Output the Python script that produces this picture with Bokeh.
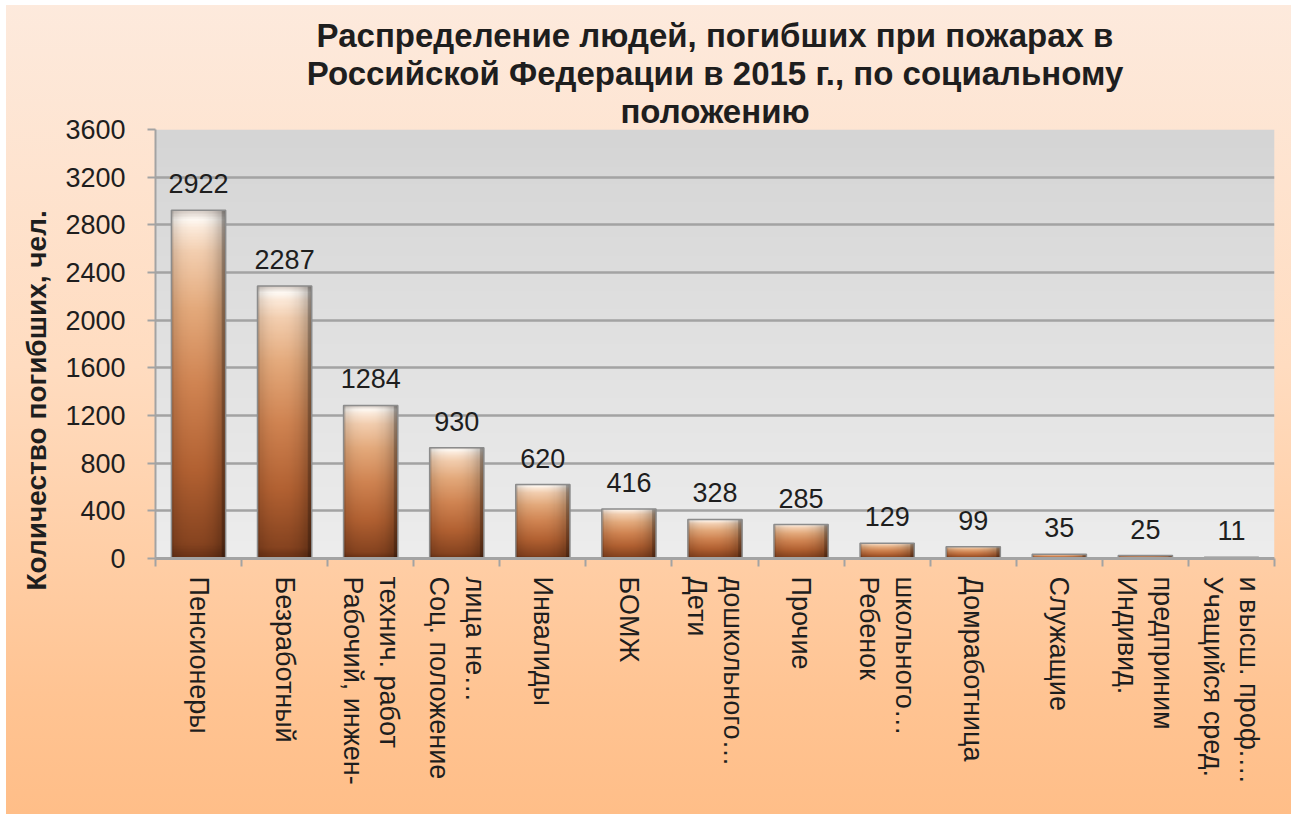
import numpy as np
from bokeh.plotting import figure
from bokeh.models import Range1d, FixedTicker, ColumnDataSource, Title
from bokeh.embed import file_html
from bokeh.resources import INLINE
from bokeh.core.properties import value

# ---------------- data ----------------
categories = [
    "Пенсионеры",
    "Безработный",
    "Рабочий, инжен-\nтехнич. работ",
    "Соц. положение\nлица не…",
    "Инвалиды",
    "БОМЖ",
    "Дети\nдошкольного…",
    "Прочие",
    "Ребенок\nшкольного…",
    "Домработница",
    "Служащие",
    "Индивид.\nпредприним",
    "Учащийся сред.\nи высш. проф.…",
]
deaths = [2922, 2287, 1284, 930, 620, 416, 328, 285, 129, 99, 35, 25, 11]
y_ticks = [0, 400, 800, 1200, 1600, 2000, 2400, 2800, 3200, 3600]
title_lines = [
    "Распределение людей, погибших при пожарах в",
    "Российской Федерации в 2015 г., по социальному",
    "положению",
]
y_label = "Количество погибших, чел."

# ---------------- styling ----------------
FONT = "Liberation Sans"
TXT = "#1e1e1e"
W, H = 1291, 814
n = len(categories)
xs = list(range(n))
bar_w = 0.63

p = figure(
    width=W, height=H, output_backend="svg", toolbar_location=None,
    x_range=Range1d(-0.5, n - 0.5), y_range=Range1d(y_ticks[0], y_ticks[-1]),
    min_border_left=155, min_border_right=17, min_border_top=129, min_border_bottom=256,
)
p.border_fill_color = None
p.background_fill_color = None
p.outline_line_color = None
p.styles = {
    "background": "linear-gradient(to bottom, #FDEADD 0%, #FFDCC0 45%, #FFC493 85%, #FFBE88 100%)",
    "box-shadow": "inset 6px 5px 0 0 #FFFFFF",
}


def rgba_image(rgb):
    h, w, _ = rgb.shape
    img = np.zeros((h, w), dtype=np.uint32)
    v = img.view(dtype=np.uint8).reshape((h, w, 4))
    v[:, :, :3] = np.clip(rgb, 0, 255).astype(np.uint8)
    v[:, :, 3] = 255
    return img


# plot-area gradient (light at bottom, darker grey at top)
gt = np.linspace(0, 1, 256)[:, None, None]
g_bottom = np.array([237, 237, 237])
g_top = np.array([213, 213, 213])
grad = np.repeat(g_bottom + (g_top - g_bottom) * gt, 2, axis=1)
p.image_rgba(image=[rgba_image(grad)], x=-0.5, y=y_ticks[0], dw=n, dh=y_ticks[-1] - y_ticks[0], level="image")

# bar gradient image
rows, cols = 240, 48
stops_t = [0.0, 0.04, 0.25, 0.5, 0.72, 0.88, 0.95, 0.975, 1.0]
stops_c = [
    (105, 50, 22), (135, 68, 32), (178, 97, 50), (208, 132, 82), (228, 170, 124),
    (243, 206, 175), (252, 234, 218), (255, 250, 244), (215, 205, 198),
]
t = np.linspace(0, 1, rows)
col = np.stack([np.interp(t, stops_t, [c[k] for c in stops_c]) for k in range(3)], axis=-1)
u = np.linspace(0, 1, cols)
fac = 1.0 - 0.32 * (np.abs(u - 0.42) / 0.58) ** 2.5
fac[u > 0.93] *= 0.8
fac[u < 0.04] *= 0.9
bar_img = rgba_image(col[:, None, :] * fac[None, :, None])

src = ColumnDataSource(dict(
    x=xs,
    left=[xi - bar_w / 2 for xi in xs],
    top=deaths,
    img=[bar_img] * n,
    lbl=[str(v) for v in deaths],
))

p.vbar(x="x", width=bar_w, top="top", bottom=0, source=src, fill_color="#C07848", line_color=None)
p.image_rgba(image="img", x="left", y=0, dw=bar_w, dh="top", source=src)
p.vbar(x="x", width=bar_w, top="top", bottom=0, source=src, fill_color=None,
       line_color="#8C8C8C", line_width=1.5)

p.text(x="x", y="top", text="lbl", source=src, text_align="center", text_baseline="bottom",
       y_offset=-17, text_font=value(FONT), text_font_size="27px", text_color=TXT)

# grid
p.xgrid.visible = False
p.ygrid.ticker = FixedTicker(ticks=y_ticks)
p.ygrid.grid_line_color = "#A3A3A3"
p.ygrid.grid_line_width = 2.5

# y axis
ya = p.yaxis[0]
ya.ticker = FixedTicker(ticks=y_ticks)
ya.axis_line_color = "#A3A3A3"
ya.axis_line_width = 2
ya.major_tick_line_color = "#A3A3A3"
ya.major_tick_line_width = 2
ya.major_tick_out = 8
ya.major_tick_in = 0
ya.minor_tick_line_color = None
ya.major_label_standoff = 22
ya.major_label_text_font = FONT
ya.major_label_text_font_size = "27px"
ya.major_label_text_color = TXT

# x axis (Bokeh stacks rotated multi-line labels right-to-left, so the
# displayed line order is flipped to read left-to-right like the original)
xa = p.xaxis[0]
xa.ticker = FixedTicker(ticks=xs, minor_ticks=[i - 0.5 for i in range(n + 1)])
xa.major_label_overrides = {i: "\n".join(reversed(c.split("\n"))) for i, c in enumerate(categories)}
xa.major_label_orientation = "vertical"
xa.axis_line_color = "#A3A3A3"
xa.axis_line_width = 3
xa.major_tick_line_color = None
xa.major_tick_out = 0
xa.major_tick_in = 0
xa.minor_tick_line_color = "#A3A3A3"
xa.minor_tick_line_width = 2
xa.minor_tick_out = 8
xa.minor_tick_in = 0
xa.major_label_standoff = 10
xa.major_label_text_font = FONT
xa.major_label_text_font_size = "27px"
xa.major_label_text_color = TXT

# title: one centred Title per line (first added sits closest to the frame)
for line in reversed(title_lines):
    p.add_layout(Title(
        text=line, align="center", text_font=FONT, text_font_size="33px",
        text_font_style="bold", text_color=TXT, standoff=-1,
    ), "above")

# y axis title
p.add_layout(Title(
    text=y_label, align="left", offset=-32, text_font=FONT, text_font_size="28px",
    text_font_style="bold", text_color=TXT, standoff=22,
), "left")

open("out.html", "w").write(file_html(p, INLINE))
